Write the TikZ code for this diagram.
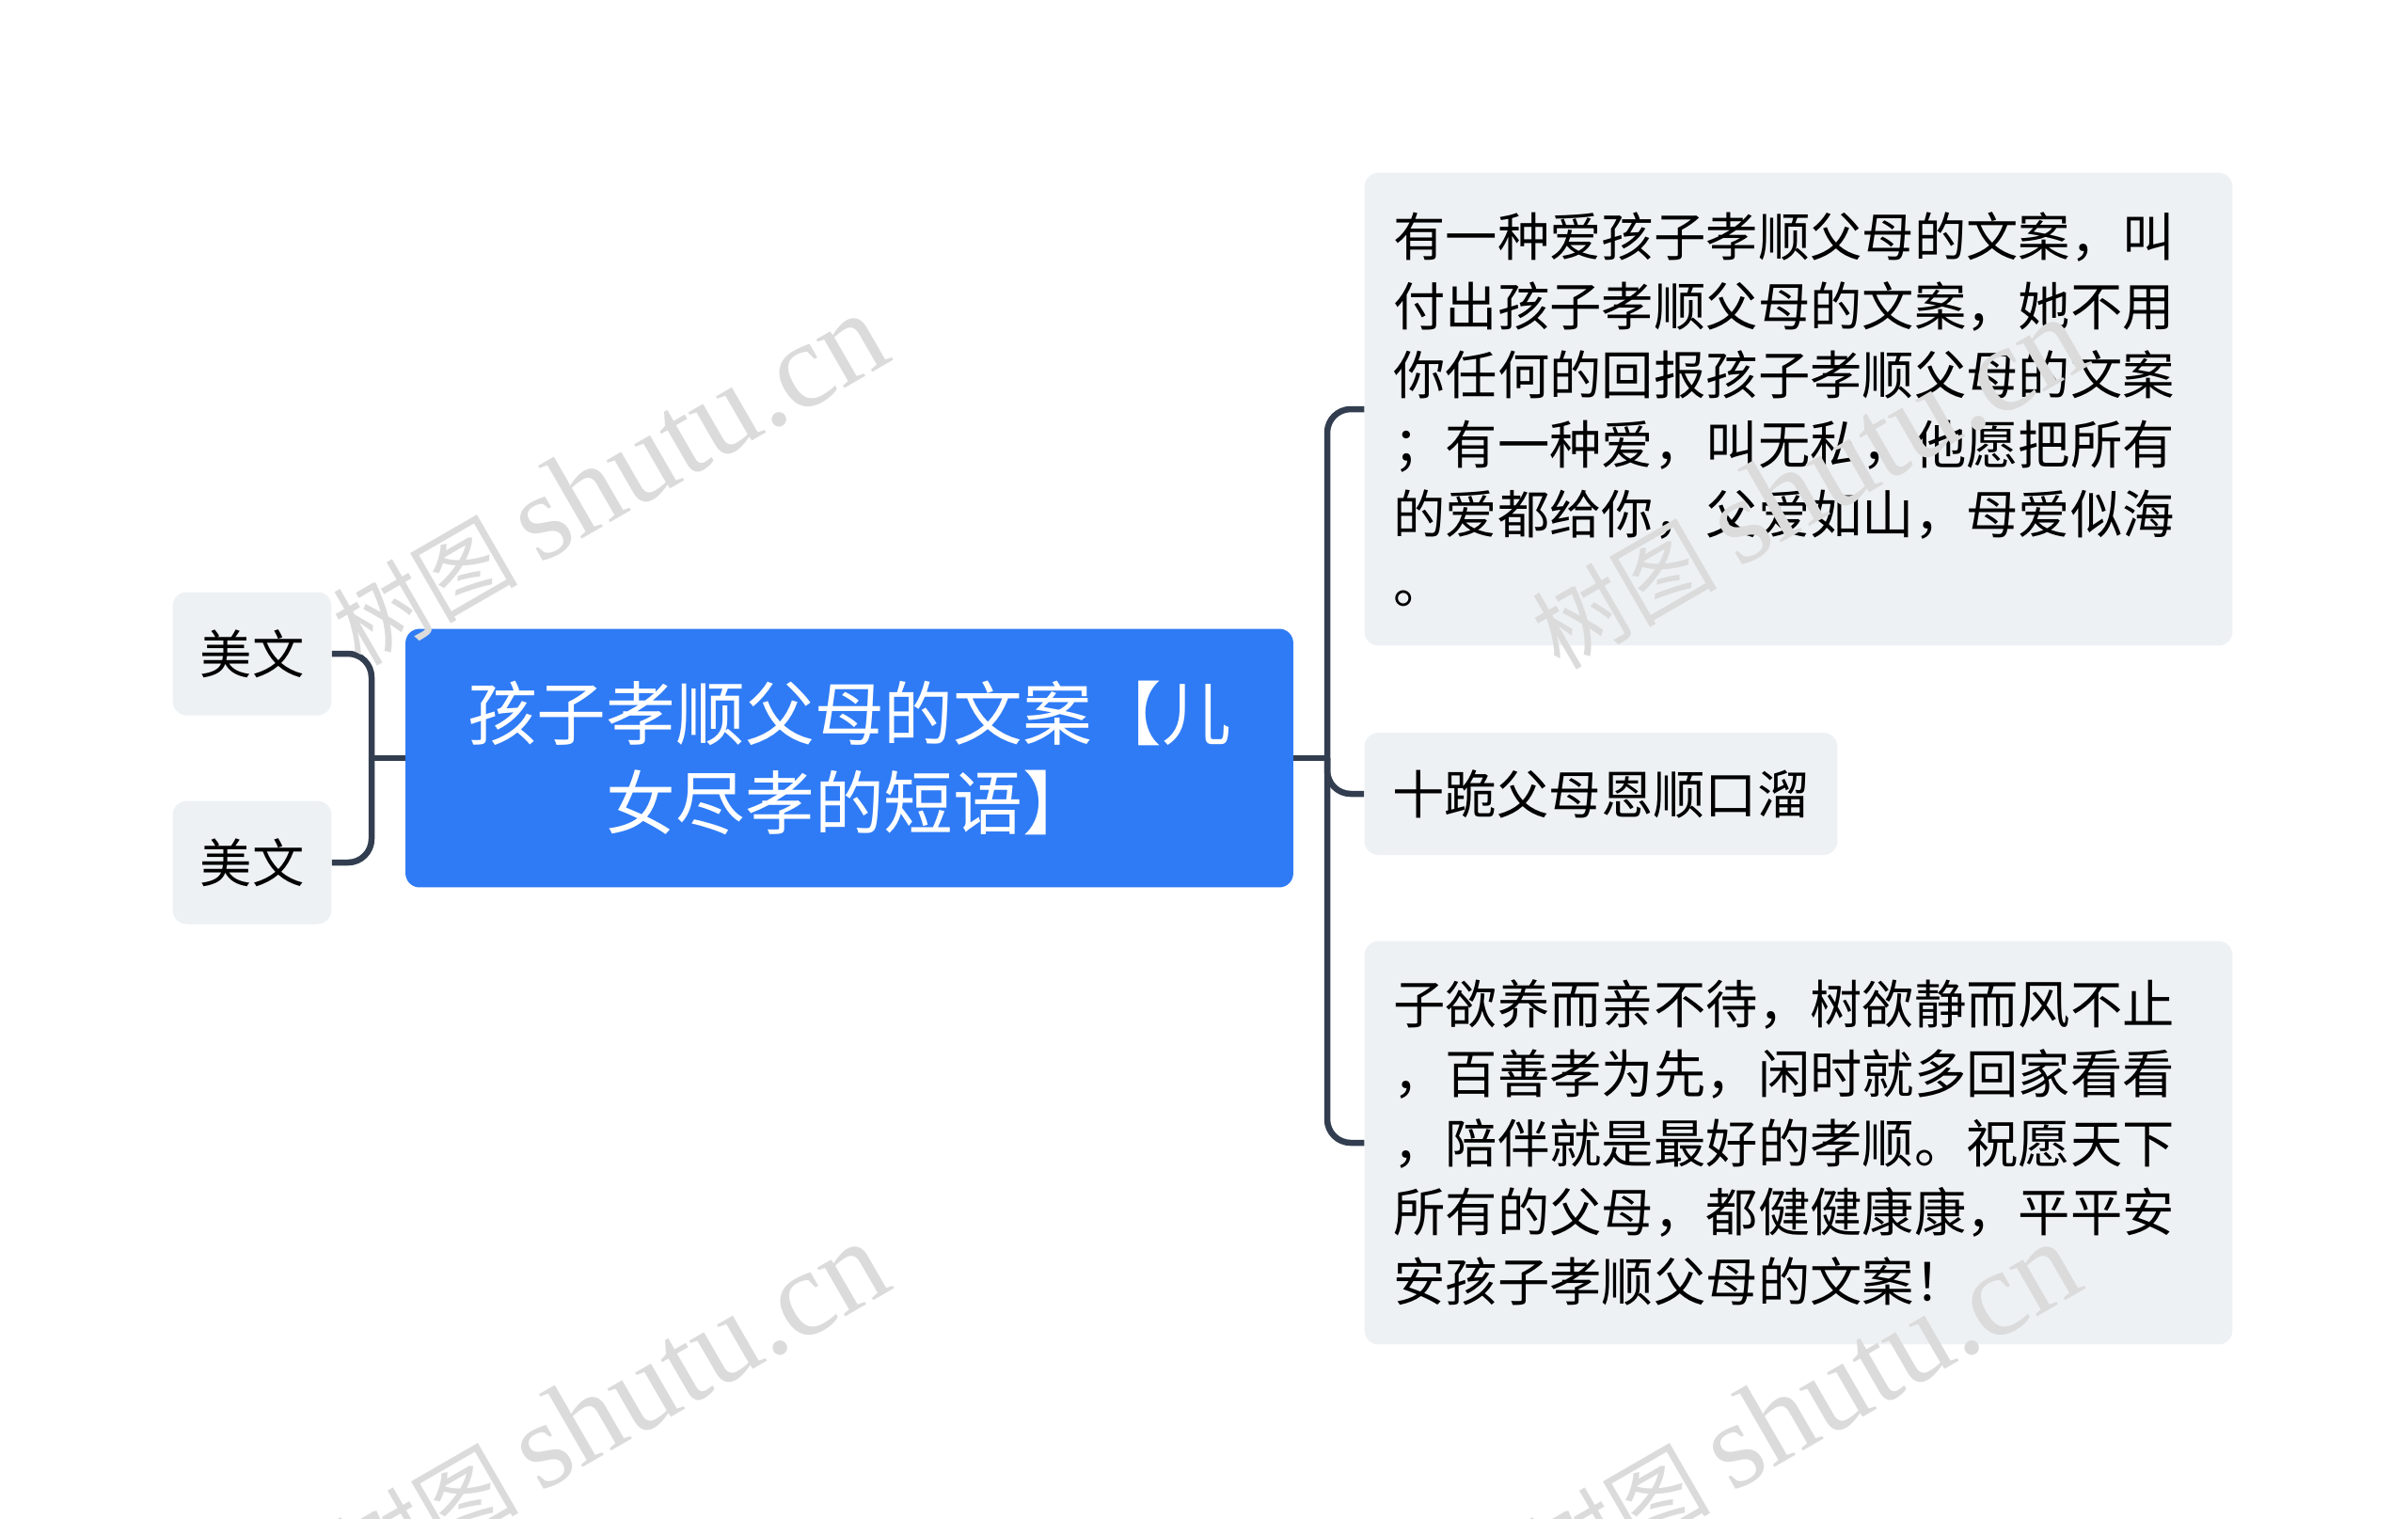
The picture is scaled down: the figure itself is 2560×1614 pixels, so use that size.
\documentclass[tikz,border=0pt]{standalone}
\usepackage{fontspec}
\setmainfont{Noto Sans CJK SC}
\newfontfamily\wmfont{Liberation Serif}
\definecolor{rootblue}{HTML}{2F7BF5}
\definecolor{leafgray}{HTML}{EEF1F4}
\definecolor{linkdark}{HTML}{323E50}

\begin{document}
\begin{tikzpicture}[x=0.02cm, y=-0.02cm,
    root/.style={fill=rootblue, rounded corners=0.3cm, text=white, align=center,
        font=\fontsize{42pt}{54pt}\selectfont, minimum width=18.88cm, minimum height=5.5cm, inner sep=0pt},
    leaf/.style={fill=leafgray, rounded corners=0.3cm, text=black,
        font=\fontsize{31.5pt}{42pt}\selectfont, inner sep=0pt},
    longleaf/.style={leaf, align=left, inner xsep=0.62cm, text width=17.22cm},
    link/.style={draw=linkdark, line width=3.7pt, rounded corners=0.5cm},
    wmark/.style={rotate=30, text=black!14, font=\fontsize{56pt}{56pt}\selectfont}]

    \useasboundingbox (0,0) rectangle (2560,1614);

    \node[root] (root) at (903,806) {孩子孝顺父母的文案【儿\\女尽孝的短语】};

    \node[leaf, minimum width=3.38cm, minimum height=2.62cm] (left1) at (268,695) {美文};
    \node[leaf, minimum width=3.38cm, minimum height=2.62cm] (left2) at (268,917) {美文};

    \node[longleaf, minimum height=10.06cm] (right1) at (1912,435) {有一种爱孩子孝顺父母的文案，叫\\付出孩子孝顺父母的文案，她不用\\你任何的回报孩子孝顺父母的文案\\；有一种爱，叫无私，他愿把所有\\的爱都给你，父爱如山，母爱似海\\。};
    \node[leaf, minimum width=10.06cm, minimum height=2.6cm] (right2) at (1702,844) {十跪父母恩顺口溜};
    \node[longleaf, minimum height=8.58cm] (right3) at (1912,1215) {子欲养而亲不待，树欲静而风不止\\，百善孝为先，闲时就多回家看看\\，陪伴就是最好的孝顺。祝愿天下\\所有的父母，都健健康康，平平安\\安孩子孝顺父母的文案！};

    \coordinate (lj) at (395,806);
    \coordinate (rj) at (1411,806);

    \draw[link] (root.west) -- (lj);
    \draw[link] (lj) |- (left1.east);
    \draw[link] (lj) |- (left2.east);

    \draw[link] (root.east) -- (rj);
    \draw[link] (rj) |- (right1.west);
    \draw[link] (rj) |- (right2.west);
    \draw[link] (rj) |- (right3.west);

    \foreach \wx/\wy [count=\i] in {647/510, 648/1497, 1922/514, 1915/1497}
        \node[wmark] (wm\i) at (\wx,\wy) {树图 {\wmfont\fontsize{74pt}{74pt}\selectfont shutu.cn}};
\end{tikzpicture}
\end{document}
